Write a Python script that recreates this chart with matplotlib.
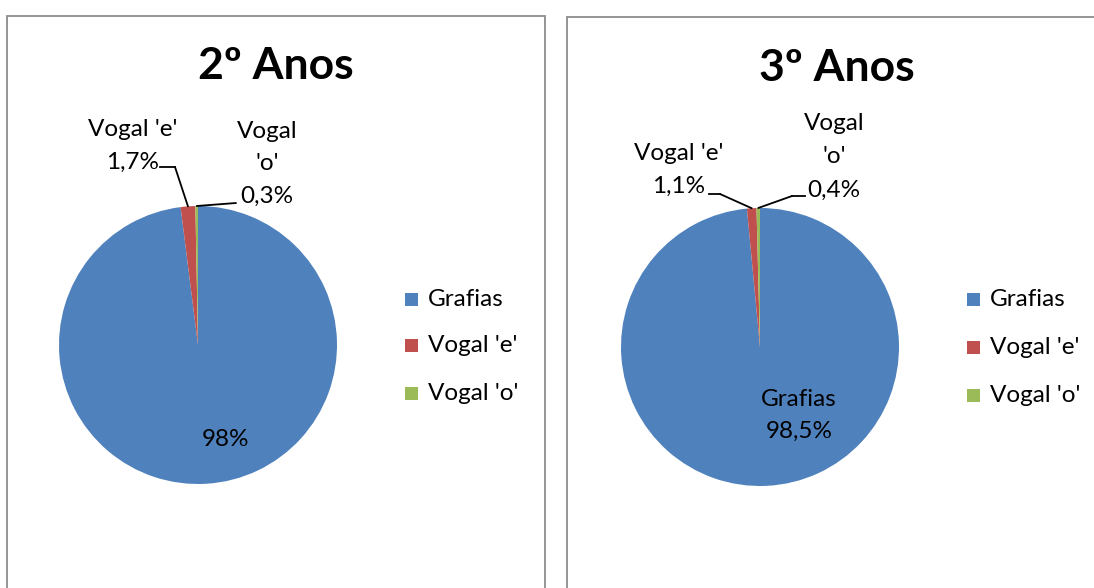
import numpy as np
import matplotlib
matplotlib.use("Agg")
import matplotlib.pyplot as plt
from matplotlib.patches import Rectangle
from matplotlib.lines import Line2D

# ---- data ----
categories = ["Grafias", "Vogal 'e'", "Vogal 'o'"]
values_2 = [98.0, 1.7, 0.3]
values_3 = [98.5, 1.1, 0.4]
pct_labels_2 = ["98%", "1,7%", "0,3%"]
pct_labels_3 = ["98,5%", "1,1%", "0,4%"]
titles = ["2º Anos", "3º Anos"]
colors = ["#4F81BD", "#C0504D", "#9BBB59"]

W, H = 1094, 588
plt.rcParams['font.family'] = ['Lato', 'DejaVu Sans']
fig = plt.figure(figsize=(W / 100, H / 100), dpi=100)
fig.patch.set_facecolor("white")


def fx(x):
    return x / W


def fy(y):
    return 1 - y / H


# panel borders
for (x0, x1, y0) in [(6.5, 545, 15.7), (566.5, 1110, 16.9)]:
    fig.add_artist(Rectangle((fx(x0), fy(620)), fx(x1) - fx(x0), fy(y0) - fy(620),
                             transform=fig.transFigure, fill=False,
                             edgecolor="#8C8C8C", linewidth=1.3, clip_on=False))

LBL = 17.5


def draw_panel(values, pct_labels, title, cx, cy, r, title_xy, legend_x, legend_ys,
               e_text, e_elbow, o_text, o_elbow, main_text):
    ax = fig.add_axes([fx(cx - r), fy(cy + r), 2 * r / W, 2 * r / H])
    wedges, _ = ax.pie(values, colors=colors, startangle=90, counterclock=False,
                       radius=1.0, wedgeprops=dict(linewidth=0))
    ax.set_xlim(-1, 1)
    ax.set_ylim(-1, 1)
    ax.set_aspect("equal")
    ax.axis("off")

    fig.text(fx(title_xy[0]), fy(title_xy[1]), title, ha="center", va="center",
             fontsize=32, fontweight="bold", color="black")

    def edge_point(w):
        th = np.deg2rad((w.theta1 + w.theta2) / 2)
        return (np.cos(th), np.sin(th))

    # main label
    mx, mys, mlines = main_text
    for yy, t in zip(mys, mlines):
        fig.text(fx(mx), fy(yy), t, ha="center", va="center", fontsize=LBL)

    # small slice labels with leaders
    for w, (tx, tys, tlines), (p0, p1) in [(wedges[1], e_text, e_elbow),
                                           (wedges[2], o_text, o_elbow)]:
        for yy, t in zip(tys, tlines):
            fig.text(fx(tx), fy(yy), t, ha="center", va="center", fontsize=LBL)
        fig.add_artist(Line2D([fx(p0[0]), fx(p1[0])], [fy(p0[1]), fy(p1[1])],
                              transform=fig.transFigure, color="black", lw=1.3))
        ax.annotate("", xy=edge_point(w), xycoords="data",
                    xytext=(fx(p1[0]), fy(p1[1])), textcoords="figure fraction",
                    arrowprops=dict(arrowstyle="-", color="black", lw=1.3,
                                    shrinkA=0, shrinkB=0),
                    annotation_clip=False)

    # legend
    for c, name, ly in zip(colors, categories, legend_ys):
        fig.add_artist(Rectangle((fx(legend_x), fy(ly + 6.5)), 13 / W, 13 / H,
                                 transform=fig.transFigure, facecolor=c,
                                 edgecolor="none"))
        fig.text(fx(legend_x + 23), fy(ly), name, ha="left", va="center",
                 fontsize=LBL)


draw_panel(values_2, pct_labels_2, titles[0], 198, 345, 139, (276, 66), 405,
           [299, 345, 393],
           (133, [129, 162], ["Vogal 'e'", pct_labels_2[1]]),
           ((160, 167), (175, 167)),
           (267, [132, 164, 196], ["Vogal", "'o'", pct_labels_2[2]]),
           ((236, 203), (236, 203)),
           (225, [440], [pct_labels_2[0]]))

draw_panel(values_3, pct_labels_3, titles[1], 760, 347, 139, (837, 68), 967,
           [299, 347, 395],
           (679, [154, 186], ["Vogal 'e'", pct_labels_3[1]]),
           ((709, 194), (720, 194)),
           (834, [124, 156, 190], ["Vogal", "'o'", pct_labels_3[2]]),
           ((805, 196), (792, 196)),
           (799, [399, 431], [categories[0], pct_labels_3[0]]))

fig.savefig("out.png", dpi=100)
